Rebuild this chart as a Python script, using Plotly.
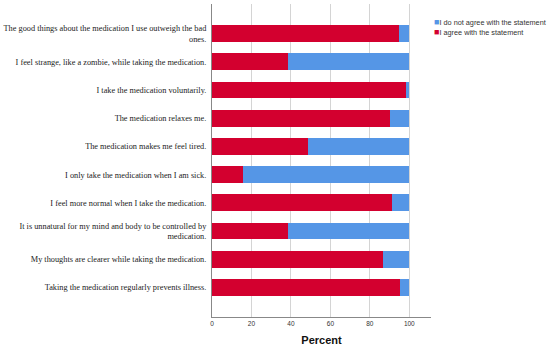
import plotly.graph_objects as go

statements = [
    "The good things about the medication I use outweigh the bad<br>ones.",
    "I feel strange, like a zombie, while taking the medication.",
    "I take the medication voluntarily.",
    "The medication relaxes me.",
    "The medication makes me feel tired.",
    "I only take the medication when I am sick.",
    "I feel more normal when I take the medication.",
    "It is unnatural for my mind and body to be controlled by<br>medication.",
    "My thoughts are clearer while taking the medication.",
    "Taking the medication regularly prevents illness.",
]
agree = [94.6, 38.3, 98.3, 90.1, 48.6, 15.5, 91.1, 38.5, 86.5, 95.5]
disagree = [5.4, 61.7, 1.7, 9.9, 51.4, 84.5, 8.9, 61.5, 13.5, 4.5]
x_ticks = [0, 20, 40, 60, 80, 100]
legend_labels = ["I do not agree with the statement", "I agree with the statement"]

RED = "#d3002f"
BLUE = "#5596e6"
SANS = "Arial, Liberation Sans"

fig = go.Figure()
fig.add_trace(go.Bar(y=statements, x=agree, orientation="h", name=legend_labels[1],
                     marker=dict(color=RED, line=dict(width=0)), width=0.6, showlegend=False))
fig.add_trace(go.Bar(y=statements, x=disagree, orientation="h", name=legend_labels[0],
                     marker=dict(color=BLUE, line=dict(width=0)), width=0.6, showlegend=False))

# compact legend (small squares) drawn as text annotations
for i, (lab, col) in enumerate(zip(legend_labels, [BLUE, RED])):
    fig.add_annotation(xref="paper", yref="paper", x=1.005, y=0.942 - i * 0.033,
                       xanchor="left", yanchor="middle", showarrow=False,
                       text=f"<span style='color:{col};font-size:9px'>■</span>{lab}",
                       font=dict(family=SANS, size=7.3, color="#333"))

fig.update_layout(
    width=550, height=348,
    barmode="stack",
    hovermode=False,
    plot_bgcolor="white", paper_bgcolor="white",
    margin=dict(l=212, r=119, t=4, b=31, autoexpand=False),
    showlegend=False,
    xaxis=dict(range=[0, 111], tickvals=x_ticks, showgrid=True, gridcolor="#d4d4d4", gridwidth=1,
               showline=True, linecolor="#888", linewidth=1, zeroline=False, automargin=False,
               tickfont=dict(family=SANS, size=6.5, color="#333"),
               title=dict(text="<b>Percent</b>", font=dict(family=SANS, size=11, color="#111"),
                          standoff=10)),
    yaxis=dict(autorange=False, range=[9.5 + 0.55, -0.5 - 0.55], categoryorder="array", categoryarray=statements,
               showline=True, linecolor="#888", linewidth=1, showgrid=False, automargin=False,
               tickfont=dict(family="Liberation Serif, Times New Roman", size=8.3, color="#222"),
               ticks="", ticklabelstandoff=3),
)

fig.write_html("out.html", config={"displayModeBar": False},
               post_script="document.body.style.margin='0';")
